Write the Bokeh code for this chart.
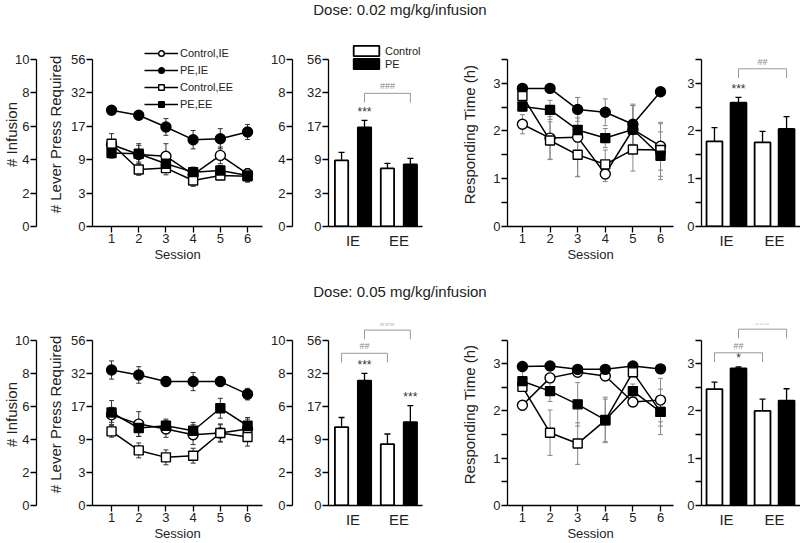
from bokeh.plotting import figure
from bokeh.models import (Range1d, LinearAxis, FixedTicker, Whisker, TeeHead,
                          ColumnDataSource, Legend, LegendItem, Label, Div)
from bokeh.layouts import column, row
from bokeh.embed import file_html
from bokeh.resources import INLINE
from bokeh.core.properties import value

FONT = "'Liberation Sans Narrow', 'Arial Narrow', 'Liberation Sans', sans-serif"
LETTER_FONT = "'Liberation Sans', Arial, sans-serif"

# ---------------- data ----------------
sessions = [1, 2, 3, 4, 5, 6]
series_names = ["Control,IE", "PE,IE", "Control,EE", "PE,EE"]
bar_categories = ["IE", "EE"]
bar_groups = ["Control", "PE"]
infusion_ticks = [0, 2, 4, 6, 8, 10]
lever_press_labels = ["0", "3", "9", "17", "32", "56"]
hour_ticks = [0, 1, 2, 3]
hour_minor_ticks = [0.5, 1.5, 2.5, 3.5]
dose_titles = ["Dose: 0.02 mg/kg/infusion", "Dose: 0.05 mg/kg/infusion"]

# Panel A: # infusion (0.02 mg/kg), per session
a_ctrl_ie = [4.9, 4.3, 4.2, 3.1, 4.25, 3.15]
a_pe_ie = [6.95, 6.65, 5.95, 5.19, 5.25, 5.65]
a_ctrl_ee = [4.95, 3.41, 3.49, 2.75, 3.05, 3.0]
a_pe_ee = [4.39, 4.35, 3.75, 3.25, 3.35, 3.05]
a_ctrl_ie_err = [0.3, 0.65, 0.75, 0.3, 0.5, 0.3]
a_pe_ie_err = [0.2, 0.25, 0.5, 0.55, 0.6, 0.45]
a_ctrl_ee_err = [0.6, 0.35, 0.4, 0.35, 0.25, 0.3]
a_pe_ee_err = [0.3, 0.5, 0.45, 0.3, 0.3, 0.4]
# Panel A bars
a_bar_ctrl = [3.95, 3.47]
a_bar_pe = [5.93, 3.71]
a_bar_ctrl_err = [0.48, 0.3]
a_bar_pe_err = [0.42, 0.36]

# Panel B: responding time (h), 0.02 mg/kg
b_ctrl_ie = [2.14, 1.85, 1.87, 1.1, 2.03, 1.68]
b_pe_ie = [2.89, 2.89, 2.45, 2.39, 2.14, 2.82]
b_ctrl_ee = [2.73, 1.8, 1.5, 1.3, 1.61, 1.6]
b_pe_ee = [2.51, 2.44, 2.02, 1.85, 2.03, 1.48]
b_ctrl_ie_err = [0.2, 0.45, 0.83, 0.16, 0.5, 0.5]
b_pe_ie_err = [0.05, 0.05, 0.25, 0.28, 0.42, 0.05]
b_ctrl_ee_err = [0.15, 0.39, 0.45, 0.3, 0.45, 0.55]
b_pe_ee_err = [0.1, 0.2, 0.25, 0.2, 0.5, 0.5]
# Panel B bars
b_bar_ctrl = [1.78, 1.76]
b_bar_pe = [2.59, 2.04]
b_bar_ctrl_err = [0.29, 0.23]
b_bar_pe_err = [0.11, 0.26]

# Panel C: # infusion (0.05 mg/kg)
c_ctrl_ie = [5.48, 4.92, 4.62, 4.28, 4.38, 4.62]
c_pe_ie = [8.19, 7.89, 7.49, 7.49, 7.49, 6.73]
c_ctrl_ee = [4.48, 3.33, 2.91, 3.01, 4.38, 4.14]
c_pe_ee = [5.62, 4.68, 4.82, 4.52, 5.88, 4.82]
c_ctrl_ie_err = [0.45, 0.75, 0.5, 0.6, 0.55, 0.6]
c_pe_ie_err = [0.55, 0.5, 0.3, 0.55, 0.3, 0.35]
c_ctrl_ee_err = [0.35, 0.45, 0.45, 0.45, 0.5, 0.55]
c_pe_ee_err = [0.72, 0.5, 0.4, 0.5, 0.6, 0.5]
# Panel C bars
c_bar_ctrl = [4.74, 3.71]
c_bar_pe = [7.55, 5.04]
c_bar_ctrl_err = [0.58, 0.61]
c_bar_pe_err = [0.44, 1.0]

# Panel D: responding time (h), 0.05 mg/kg
d_ctrl_ie = [2.12, 2.7, 2.82, 2.74, 2.19, 2.23]
d_pe_ie = [2.94, 2.95, 2.88, 2.88, 2.95, 2.89]
d_ctrl_ee = [2.51, 1.54, 1.31, 1.8, 2.82, 1.98]
d_pe_ee = [2.63, 2.42, 2.14, 1.81, 2.42, 1.98]
d_ctrl_ie_err = [0.1, 0.1, 0.05, 0.08, 0.1, 0.46]
d_pe_ie_err = [0.03, 0.03, 0.03, 0.03, 0.03, 0.03]
d_ctrl_ee_err = [0.1, 0.48, 0.44, 0.45, 0.1, 0.3]
d_pe_ee_err = [0.2, 0.22, 0.46, 0.48, 0.15, 0.48]
# Panel D bars
d_bar_ctrl = [2.46, 2.0]
d_bar_pe = [2.9, 2.22]
d_bar_ctrl_err = [0.15, 0.25]
d_bar_pe_err = [0.03, 0.25]

# significance marks per bar (order: Control IE, PE IE, Control EE, PE EE)
a_stars = ["", "***", "", ""]
b_stars = ["", "***", "", ""]
c_stars = ["", "***", "", "***"]
d_stars = ["", "*", "", ""]
# brackets: (first bar, second bar, level, label)
a_brackets = [(1, 3, 7.96, "###")]
b_brackets = [(1, 3, 3.30, "##")]
c_brackets = [(0, 2, 9.2, "##"), (1, 3, 10.6, "###")]
d_brackets = [(0, 2, 3.23, "##"), (1, 3, 3.73, "###")]

# ---------------- styling helpers ----------------
MARKERS = {"Control,IE": ("circle", "white"), "PE,IE": ("circle", "black"),
           "Control,EE": ("square", "white"), "PE,EE": ("square", "black")}


def style_axis(ax, fs="13px"):
    ax.axis_line_color = "black"
    ax.axis_line_width = 1.3
    ax.major_tick_line_color = "black"
    ax.major_tick_line_width = 1.3
    ax.minor_tick_line_color = "black"
    ax.minor_tick_line_width = 1.3
    ax.major_tick_in = 0
    ax.major_tick_out = 6
    ax.minor_tick_in = 0
    ax.minor_tick_out = 0
    ax.major_label_text_font = FONT
    ax.major_label_text_font_size = fs
    ax.major_label_text_color = "#222"
    ax.major_label_standoff = 1
    ax.axis_label_text_font = FONT
    ax.axis_label_text_font_style = "normal"
    ax.axis_label_text_color = "#222"


def spacer_axis(p, gap):
    ax = LinearAxis(ticker=FixedTicker(ticks=[]), axis_line_color=None,
                    major_tick_line_color=None, minor_tick_line_color=None,
                    major_tick_out=0, major_tick_in=0, minor_tick_out=0,
                    major_label_text_font_size="1px", major_label_standoff=0,
                    axis_label=" ", axis_label_standoff=gap,
                    axis_label_text_font_size="1px")
    p.add_layout(ax, "left")


def base_fig(W, H, BL, BR, BT, BB, xr, yr):
    p = figure(width=W, height=H, x_range=Range1d(*xr), y_range=Range1d(*yr),
               output_backend="svg", toolbar_location=None,
               min_border_left=BL, min_border_right=BR,
               min_border_top=BT, min_border_bottom=BB)
    p.outline_line_color = None
    p.xgrid.visible = False
    p.ygrid.visible = False
    return p


def setup_y(p, kind, with_labels, spacer_gap, outer_standoff):
    ya = p.yaxis[0]
    style_axis(ya)
    if kind == "inf":
        ya.bounds = (0, 10)
        ya.ticker = FixedTicker(ticks=infusion_ticks)
        ya.major_label_overrides = {t: lab for t, lab in zip(infusion_ticks, lever_press_labels)}
        if with_labels:
            ya.axis_label = "# Lever Press Required"
            ya.axis_label_text_font_size = "15px"
            ya.axis_label_standoff = 4
        spacer_axis(p, spacer_gap)
        outer = LinearAxis(ticker=FixedTicker(ticks=infusion_ticks), bounds=(0, 10))
        style_axis(outer)
        if with_labels:
            outer.axis_label = "# Infusion"
            outer.axis_label_text_font_size = "15px"
            outer.axis_label_standoff = outer_standoff
        p.add_layout(outer, "left")
    else:
        ya.bounds = (0, 3.5)
        ya.ticker = FixedTicker(ticks=hour_ticks, minor_ticks=hour_minor_ticks)
        ya.minor_tick_out = 6
        if with_labels:
            ya.axis_label = "Responding Time (h)"
            ya.axis_label_text_font_size = "15px"
            ya.axis_label_standoff = 12


def line_fig(geom_c, geom_r, kind, vals, errs, letter, letter_xy, with_legend):
    W, BL, BR = geom_c
    H, BT, BB = geom_r
    top = 10 if kind == "inf" else 3.5
    xr = (0.3, 6.55) if kind == "inf" else (0.46, 6.47)
    p = base_fig(W, H, BL, BR, BT, BB, xr, (0, top * 1.1))
    xa = p.xaxis[0]
    style_axis(xa)
    xa.ticker = FixedTicker(ticks=sessions)
    xa.axis_label = "Session"
    xa.axis_label_text_font_size = "13px"
    xa.axis_label_standoff = 1
    setup_y(p, kind, True, 4, -8)

    ecol = "#333" if kind == "inf" else "#888"
    for name in series_names:
        v, e = vals[name], errs[name]
        src = ColumnDataSource(dict(x=sessions, lo=[a - b for a, b in zip(v, e)],
                                    hi=[a + b for a, b in zip(v, e)]))
        p.add_layout(Whisker(source=src, base="x", lower="lo", upper="hi",
                             level="underlay", line_color=ecol, line_width=1,
                             upper_head=TeeHead(size=5, line_color=ecol, line_width=1),
                             lower_head=TeeHead(size=5, line_color=ecol, line_width=1)))
    lines = {}
    for name in series_names:
        lines[name] = p.line(sessions, vals[name], line_color="black", line_width=1.5)
    marks = {}
    for name in series_names:
        mk, fc = MARKERS[name]
        marks[name] = p.scatter(sessions, vals[name], marker=mk,
                                size=10 if mk == "circle" else 9,
                                fill_color=fc, line_color="black", line_width=1.4)
    if with_legend:
        items = [LegendItem(label=n, renderers=[lines[n], marks[n]]) for n in series_names]
        lg = Legend(items=items, location=(52, 115), border_line_color=None,
                    background_fill_alpha=0, padding=0, margin=0, spacing=3,
                    glyph_width=34, glyph_height=14, label_height=14,
                    label_standoff=2, label_text_font=FONT,
                    label_text_font_size="11px", label_text_color="#222")
        p.add_layout(lg)
    p.add_layout(Label(x=letter_xy[0], y=letter_xy[1], x_units="screen", y_units="screen",
                       text=letter, text_font=LETTER_FONT, text_font_size="25px",
                       text_color="#111"))
    return p


def bar_fig(geom_c, geom_r, kind, ctrl, pe, ctrl_err, pe_err, stars, brackets, with_legend):
    W, BL, BR = geom_c
    H, BT, BB = geom_r
    top = 10 if kind == "inf" else 3.5
    if kind == "inf":
        xb = (0.43, 4.55)
        xr = (0.43, 4.55 + 8 / 24.4)   # frame a little wider than the axis line
        bw = 0.58
    else:
        xb = (0.46, 4.58)
        xr = xb
        bw = 0.66
    p = base_fig(W, H, BL, BR, BT, BB, xr, (0, top * 1.1))
    xs_ctrl = [1 + 2 * i for i in range(len(bar_categories))]
    xs_pe = [2 + 2 * i for i in range(len(bar_categories))]
    rc = p.vbar(x=xs_ctrl, top=ctrl, width=bw, fill_color="white", line_color="black", line_width=1.8)
    rp = p.vbar(x=xs_pe, top=pe, width=bw, fill_color="black", line_color="black", line_width=1.8)
    for xs, t, e in ((xs_ctrl, ctrl, ctrl_err), (xs_pe, pe, pe_err)):
        src = ColumnDataSource(dict(x=xs, lo=t, hi=[a + b for a, b in zip(t, e)]))
        p.add_layout(Whisker(source=src, base="x", lower="lo", upper="hi", level="underlay",
                             line_color="black", line_width=1.3, lower_head=None,
                             upper_head=TeeHead(size=6, line_color="black", line_width=1.3)))
    xa = p.xaxis[0]
    style_axis(xa, fs="15px")
    xa.bounds = xb
    xa.ticker = FixedTicker(ticks=[1.5, 3.5])
    xa.major_label_overrides = {1.5: bar_categories[0], 3.5: bar_categories[1]}
    xa.major_tick_line_color = None
    xa.major_tick_out = 0
    xa.major_label_standoff = 5
    setup_y(p, kind, False, 8, 0)

    all_x = [xs_ctrl[0], xs_pe[0], xs_ctrl[1], xs_pe[1]]
    all_top = [ctrl[0] + ctrl_err[0], pe[0] + pe_err[0], ctrl[1] + ctrl_err[1], pe[1] + pe_err[1]]
    sx = [x for x, s in zip(all_x, stars) if s]
    sy = [t + 0.01 * top for t, s in zip(all_top, stars) if s]
    st = [s for s in stars if s]
    p.text(x=sx, y=sy, text=st, text_align="center", text_baseline="bottom",
           text_font=value(FONT), text_font_size=value("12px"), text_color="#333")
    tick = 0.055 * top
    bxs, bys, tx, ty, tt = [], [], [], [], []
    for i, j, lev, lab in brackets:
        xa_, xb_ = all_x[i], all_x[j]
        bxs.append([xa_, xa_, xb_, xb_])
        bys.append([lev - tick, lev, lev, lev - tick])
        tx.append((xa_ + xb_) / 2)
        ty.append(lev + 0.012 * top)
        tt.append(lab)
    p.multi_line(xs=bxs, ys=bys, line_color="#999", line_width=1)
    p.text(x=tx, y=ty, text=tt, text_align="center", text_baseline="bottom",
           text_font=value(FONT), text_font_size=value("9px"), text_color="#888")
    if with_legend:
        lg = Legend(items=[LegendItem(label=bar_groups[0], renderers=[rc]),
                           LegendItem(label=bar_groups[1], renderers=[rp])],
                    location=(22, 156), border_line_color=None, background_fill_alpha=0,
                    padding=0, margin=0, spacing=0, glyph_width=32, glyph_height=13,
                    label_height=13, label_standoff=3, label_text_font=FONT,
                    label_text_font_size="11px", label_text_color="#222")
        p.add_layout(lg)
    return p


# ---------------- geometry ----------------
COL_A_LINE = (268, 92, 6)
COL_A_BAR = (162, 54, 0)
COL_B_LINE = (250, 77, 7)
COL_B_BAR = (120, 21, 0)
ROW1 = (246, 22, 40)
ROW2 = (243, 23, 37)

vals_a = dict(zip(series_names, [a_ctrl_ie, a_pe_ie, a_ctrl_ee, a_pe_ee]))
errs_a = dict(zip(series_names, [a_ctrl_ie_err, a_pe_ie_err, a_ctrl_ee_err, a_pe_ee_err]))
vals_b = dict(zip(series_names, [b_ctrl_ie, b_pe_ie, b_ctrl_ee, b_pe_ee]))
errs_b = dict(zip(series_names, [b_ctrl_ie_err, b_pe_ie_err, b_ctrl_ee_err, b_pe_ee_err]))
vals_c = dict(zip(series_names, [c_ctrl_ie, c_pe_ie, c_ctrl_ee, c_pe_ee]))
errs_c = dict(zip(series_names, [c_ctrl_ie_err, c_pe_ie_err, c_ctrl_ee_err, c_pe_ee_err]))
vals_d = dict(zip(series_names, [d_ctrl_ie, d_pe_ie, d_ctrl_ee, d_pe_ee]))
errs_d = dict(zip(series_names, [d_ctrl_ie_err, d_pe_ie_err, d_ctrl_ee_err, d_pe_ee_err]))

pA = line_fig(COL_A_LINE, ROW1, "inf", vals_a, errs_a, "A", (-90, 176), True)
pAb = bar_fig(COL_A_BAR, ROW1, "inf", a_bar_ctrl, a_bar_pe, a_bar_ctrl_err, a_bar_pe_err,
              a_stars, a_brackets, True)
pB = line_fig(COL_B_LINE, ROW1, "hr", vals_b, errs_b, "B", (-57, 178), False)
pBb = bar_fig(COL_B_BAR, ROW1, "hr", b_bar_ctrl, b_bar_pe, b_bar_ctrl_err, b_bar_pe_err,
              b_stars, b_brackets, False)
pC = line_fig(COL_A_LINE, ROW2, "inf", vals_c, errs_c, "C", (-90, 169), False)
pCb = bar_fig(COL_A_BAR, ROW2, "inf", c_bar_ctrl, c_bar_pe, c_bar_ctrl_err, c_bar_pe_err,
              c_stars, c_brackets, False)
pD = line_fig(COL_B_LINE, ROW2, "hr", vals_d, errs_d, "D", (-57, 176), False)
pDb = bar_fig(COL_B_BAR, ROW2, "hr", d_bar_ctrl, d_bar_pe, d_bar_ctrl_err, d_bar_pe_err,
              d_stars, d_brackets, False)


def title_div(text, h, pad):
    return Div(text=f'<div style="width:800px;text-align:center;font-family:{FONT};'
                    f'font-size:15px;line-height:16px;padding-top:{pad}px;color:#222">{text}</div>',
               width=800, height=h, margin=0)


layout = column(title_div(dose_titles[0], 20, 2),
                row(pA, pAb, pB, pBb),
                title_div(dose_titles[1], 34, 18),
                row(pC, pCb, pD, pDb))

open("out.html", "w").write(file_html(layout, INLINE))
